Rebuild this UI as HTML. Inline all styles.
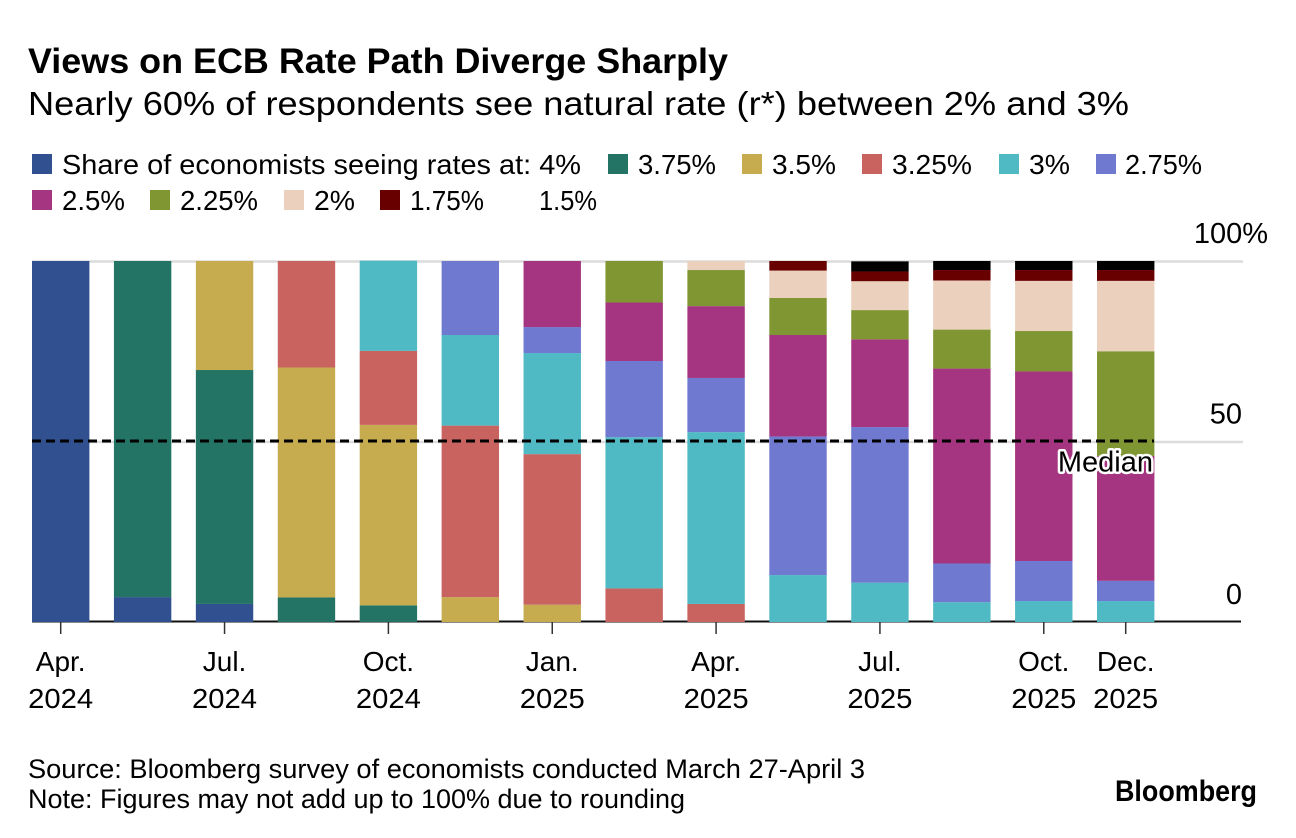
<!DOCTYPE html>
<html lang="en">
<head>
<meta charset="utf-8">
<title>Views on ECB Rate Path Diverge Sharply</title>
<style>
html,body{margin:0;padding:0;background:#fff;width:1296px;height:838px;overflow:hidden}
svg{display:block}
text{font-family:"Liberation Sans",sans-serif;fill:#000}
</style>
</head>
<body>
<svg id="chart" width="1296" height="838" viewBox="0 0 1296 838" xmlns="http://www.w3.org/2000/svg">
  <text x="28" y="73" font-size="35" font-weight="700" textLength="700" lengthAdjust="spacingAndGlyphs">Views on ECB Rate Path Diverge Sharply</text>
  <text x="28" y="115" font-size="33" textLength="1101" lengthAdjust="spacingAndGlyphs">Nearly 60% of respondents see natural rate (r*) between 2% and 3%</text>

  <g font-size="28">
    <rect x="32" y="154" width="20" height="20" fill="#30508f"/>
    <text x="62" y="174" textLength="519" lengthAdjust="spacingAndGlyphs">Share of economists seeing rates at: 4%</text>
    <rect x="608" y="154" width="20" height="20" fill="#247466"/>
    <text x="638" y="174" textLength="78" lengthAdjust="spacingAndGlyphs">3.75%</text>
    <rect x="742" y="154" width="20" height="20" fill="#c6ab4f"/>
    <text x="772" y="174" textLength="64" lengthAdjust="spacingAndGlyphs">3.5%</text>
    <rect x="862" y="154" width="20" height="20" fill="#c9635f"/>
    <text x="892" y="174" textLength="80" lengthAdjust="spacingAndGlyphs">3.25%</text>
    <rect x="999" y="154" width="20" height="20" fill="#4fb9c4"/>
    <text x="1029" y="174" textLength="41" lengthAdjust="spacingAndGlyphs">3%</text>
    <rect x="1096" y="154" width="20" height="20" fill="#6f79cf"/>
    <text x="1125" y="174" textLength="77" lengthAdjust="spacingAndGlyphs">2.75%</text>
    <rect x="32" y="190" width="20" height="20" fill="#a53581"/>
    <text x="62" y="210" textLength="63" lengthAdjust="spacingAndGlyphs">2.5%</text>
    <rect x="150" y="190" width="20" height="20" fill="#7f9632"/>
    <text x="180" y="210" textLength="78" lengthAdjust="spacingAndGlyphs">2.25%</text>
    <rect x="284" y="190" width="20" height="20" fill="#ead0bd"/>
    <text x="314" y="210" textLength="41" lengthAdjust="spacingAndGlyphs">2%</text>
    <rect x="380" y="190" width="20" height="20" fill="#690000"/>
    <text x="410" y="210" textLength="74" lengthAdjust="spacingAndGlyphs">1.75%</text>
    <text x="539" y="210" textLength="58" lengthAdjust="spacingAndGlyphs">1.5%</text>
  </g>

  <g id="grid"></g>
  <g id="xaxis"></g>
  <g id="bars"></g>
  <g id="overlay"></g>

  <text x="28" y="778" font-size="27" textLength="837" lengthAdjust="spacingAndGlyphs">Source: Bloomberg survey of economists conducted March 27-April 3</text>
  <text x="28" y="808" font-size="27" textLength="657" lengthAdjust="spacingAndGlyphs">Note: Figures may not add up to 100% due to rounding</text>
  <text x="1115" y="801" font-size="30" font-weight="700" textLength="142" lengthAdjust="spacingAndGlyphs">Bloomberg</text>
</svg>
<script>
const barCount = 14;
const rate4    = [100, 6.9, 5, 0, 0, 0, 0, 0, 0, 0, 0, 0, 0, 0];
const rate375  = [0, 93.1, 64.8, 6.8, 4.6, 0, 0, 0, 0, 0, 0, 0, 0, 0];
const rate35   = [0, 0, 30.2, 63.7, 50, 6.9, 4.8, 0, 0, 0, 0, 0, 0, 0];
const rate325  = [0, 0, 0, 29.5, 20.5, 47.5, 41.7, 9.3, 5, 0, 0, 0, 0, 0];
const rate3    = [0, 0, 0, 0, 25, 25.1, 28, 41.9, 47.6, 13, 10.9, 5.5, 5.8, 5.8];
const rate275  = [0, 0, 0, 0, 0, 20.5, 7.2, 21.1, 15, 38.4, 43.1, 10.7, 11.1, 5.6];
const rate25   = [0, 0, 0, 0, 0, 0, 18.3, 16.2, 19.9, 28.1, 24.3, 54, 52.5, 34.6];
const rate225  = [0, 0, 0, 0, 0, 0, 0, 11.5, 10, 10.25, 8.1, 10.8, 11.2, 29];
const rate2    = [0, 0, 0, 0, 0, 0, 0, 0, 2.5, 7.6, 8, 13.6, 13.9, 19.5];
const rate175  = [0, 0, 0, 0, 0, 0, 0, 0, 0, 2.65, 2.7, 2.9, 3, 3];
const rate15   = [0, 0, 0, 0, 0, 0, 0, 0, 0, 0, 2.8, 2.5, 2.5, 2.5];
const seriesValues = [rate4, rate375, rate35, rate325, rate3, rate275, rate25, rate225, rate2, rate175, rate15];
const seriesNames = ['4', '3-75', '3-5', '3-25', '3', '2-75', '2-5', '2-25', '2', '1-75', '1-5'];
const seriesColors = ['#30508f', '#247466', '#c6ab4f', '#c9635f', '#4fb9c4', '#6f79cf', '#a53581', '#7f9632', '#ead0bd', '#690000', '#000000'];
const yTicks = [0, 50, 100];
const yTickLabels = ['0', '50', '100%'];
const xTickIndex = [0, 2, 4, 6, 8, 10, 12, 13];
const xTickMonths = ['Apr.', 'Jul.', 'Oct.', 'Jan.', 'Apr.', 'Jul.', 'Oct.', 'Dec.'];
const xTickYears = ['2024', '2024', '2024', '2025', '2025', '2025', '2025', '2025'];
const medianValue = 50;

const NS = 'http://www.w3.org/2000/svg';
function yScale(v) { return 622 - v * 3.61; }
function xScale(i) { return 32 + i * (1065 / (barCount - 1)); }
const barWidth = 57.4;
function make(tag, attrs, parent) {
  const el = document.createElementNS(NS, tag);
  for (const k in attrs) el.setAttribute(k, attrs[k]);
  parent.appendChild(el);
  return el;
}
const grid = document.getElementById('grid');
const xaxis = document.getElementById('xaxis');
const barsG = document.getElementById('bars');
const overlay = document.getElementById('overlay');

yTicks.forEach(function (t, i) {
  if (t !== 0) {
    const ln = make('line', {x1: 32, x2: 1243, y1: yScale(t) + 0.5, y2: yScale(t) + 0.5, stroke: '#dcdcdc', 'stroke-width': 2.5}, grid);
    
    
  }
  const label = make('text', {x: t === 100 ? 1268 : 1242, y: yScale(t) - 18, 'font-size': 29, 'text-anchor': 'end'}, grid);
  label.textContent = yTickLabels[i];
  
  
});

const axisLine = make('line', {x1: 32, x2: 1241, y1: 621.5, y2: 621.5, stroke: '#111', 'stroke-width': 2}, xaxis);



xTickIndex.forEach(function (idx, i) {
  const cx = xScale(idx) + barWidth / 2;
  const tick = make('line', {x1: cx, x2: cx, y1: 622, y2: 634, stroke: '#333', 'stroke-width': 1.5}, xaxis);
  
  
  const month = make('text', {x: cx, y: 671, 'font-size': 28, 'text-anchor': 'middle'}, xaxis);
  month.textContent = xTickMonths[i];
  
  
  const year = make('text', {x: cx, y: 708, 'font-size': 28, 'text-anchor': 'middle', textLength: 65, lengthAdjust: 'spacingAndGlyphs'}, xaxis);
  year.textContent = xTickYears[i];
  
  
});

for (let b = 0; b < barCount; b++) {
  let cum = 0;
  seriesValues.forEach(function (vals, s) {
    const v = vals[b];
    if (v > 0) {
      const top = yScale(cum + v);
      const r = make('rect', {x: xScale(b), y: top, width: barWidth, height: yScale(cum) - top, fill: seriesColors[s]}, barsG);
      
      
    }
    cum += v;
  });
}

const medianLine = make('line', {x1: 32, x2: 1154, y1: yScale(medianValue) - 0.5, y2: yScale(medianValue) - 0.5, stroke: '#000', 'stroke-width': 3, 'stroke-dasharray': '9 5'}, overlay);


const medianLabel = make('text', {x: 1153, y: yScale(medianValue) + 30, 'font-size': 29, 'text-anchor': 'end', stroke: '#fff', 'stroke-width': 5, 'paint-order': 'stroke', 'stroke-linejoin': 'round'}, overlay);
medianLabel.textContent = 'Median';


</script>
</body>
</html>
